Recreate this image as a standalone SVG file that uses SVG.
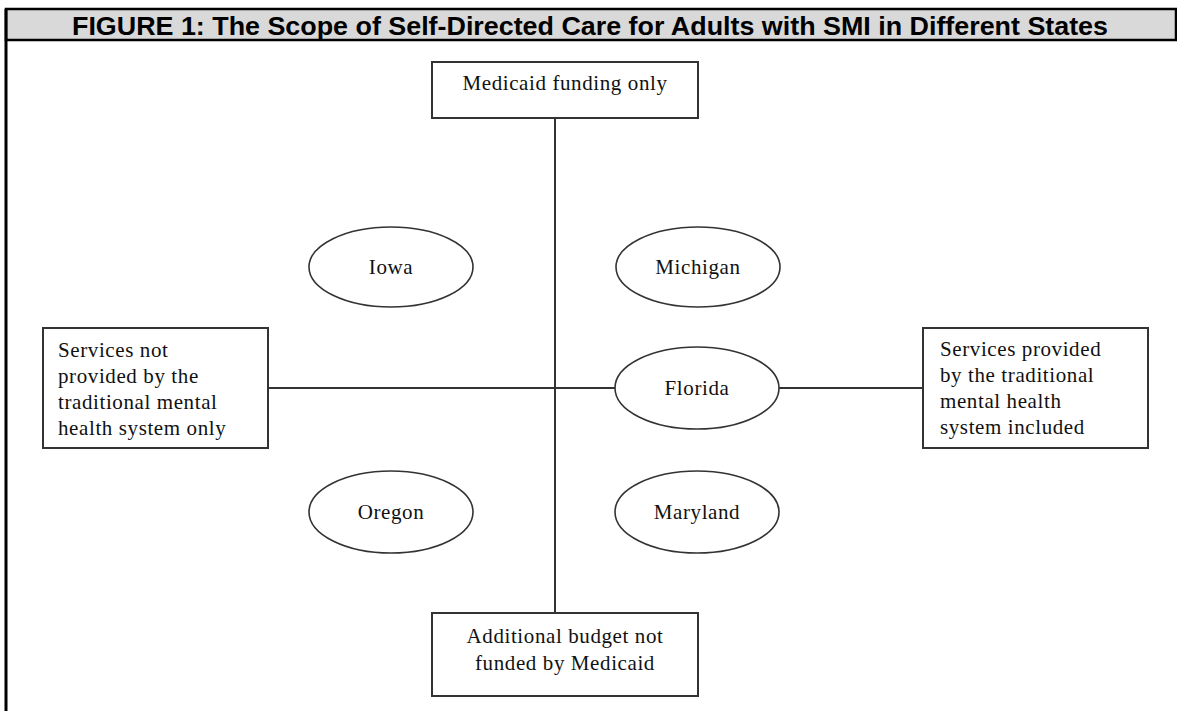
<svg xmlns="http://www.w3.org/2000/svg" width="1177" height="711" viewBox="0 0 1177 711">
<style>
.bx{fill:#fff;stroke:#333;stroke-width:2}
.el{fill:#fff;stroke:#333;stroke-width:1.6}
.ln{stroke:#333;stroke-width:2;fill:none}
.t{font-family:"Liberation Serif","Times New Roman",serif;font-size:21px;letter-spacing:0.6px;fill:#111}
.c{text-anchor:middle}
.title{font-family:"Liberation Sans",Arial,sans-serif;font-weight:bold;font-size:26px;fill:#000;text-anchor:middle}
</style>
<rect width="1177" height="711" fill="#fff"/>
<g id="frame">
<rect x="6" y="9" width="1170" height="31" fill="#d9d9d9" stroke="#000" stroke-width="2.5"/>
<line x1="6" y1="9" x2="6" y2="711" stroke="#000" stroke-width="3"/>
<text class="title" x="590" y="35" textLength="1036" lengthAdjust="spacingAndGlyphs">FIGURE 1: The Scope of Self-Directed Care for Adults with SMI in Different States</text>
</g>
<g id="connectors">
<line class="ln" x1="555" y1="118" x2="555" y2="613"/>
<line class="ln" x1="268" y1="388" x2="923" y2="388"/>
</g>
<g id="top">
<rect class="bx" x="432" y="62" width="266" height="56"/>
<text class="t c" x="565" y="90">Medicaid funding only</text>
</g>
<g id="left">
<rect class="bx" x="43" y="328" width="225" height="120"/>
<text class="t" x="58" y="357">Services not</text>
<text class="t" x="58" y="383">provided by the</text>
<text class="t" x="58" y="409">traditional mental</text>
<text class="t" x="58" y="435">health system only</text>
</g>
<g id="right">
<rect class="bx" x="923" y="328" width="225" height="120"/>
<text class="t" x="940" y="356">Services provided</text>
<text class="t" x="940" y="382">by the traditional</text>
<text class="t" x="940" y="408">mental health</text>
<text class="t" x="940" y="434">system included</text>
</g>
<g id="bottom">
<rect class="bx" x="432" y="613" width="266" height="83"/>
<text class="t c" x="565" y="643">Additional budget not</text>
<text class="t c" x="565" y="670">funded by Medicaid</text>
</g>
<g id="iowa">
<ellipse class="el" cx="391" cy="267" rx="82" ry="40"/>
<text class="t c" x="391" y="274">Iowa</text>
</g>
<g id="michigan">
<ellipse class="el" cx="698" cy="267" rx="82" ry="40"/>
<text class="t c" x="698" y="274">Michigan</text>
</g>
<g id="florida">
<ellipse class="el" cx="697" cy="388" rx="82" ry="41"/>
<text class="t c" x="697" y="395">Florida</text>
</g>
<g id="oregon">
<ellipse class="el" cx="391" cy="512" rx="82" ry="41"/>
<text class="t c" x="391" y="519">Oregon</text>
</g>
<g id="maryland">
<ellipse class="el" cx="697" cy="512" rx="82" ry="41"/>
<text class="t c" x="697" y="519">Maryland</text>
</g>
</svg>
